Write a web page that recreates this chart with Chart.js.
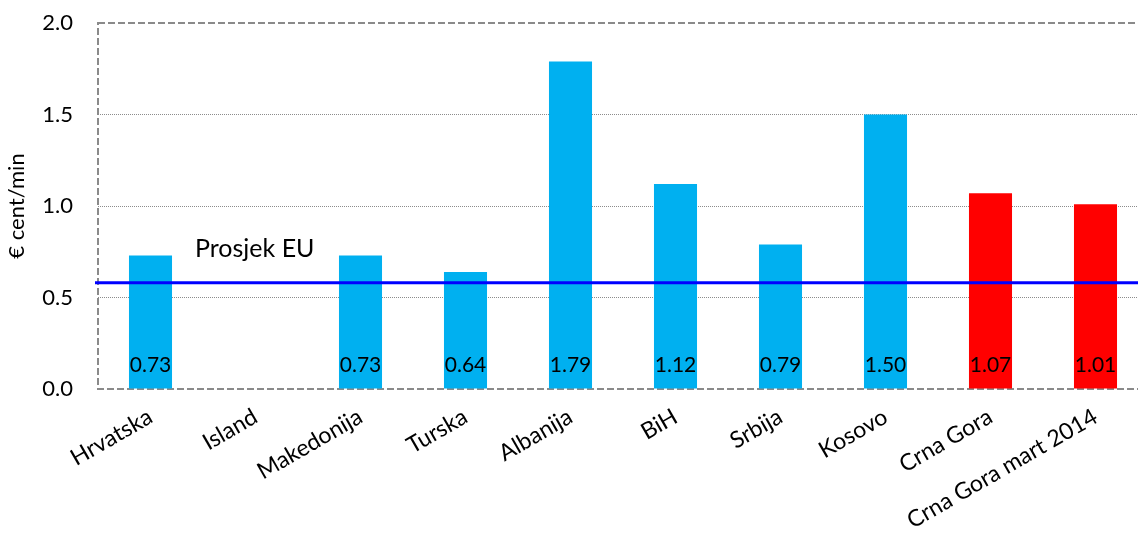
<!DOCTYPE html>
<html>
<head>
<meta charset="utf-8">
<script src="https://cdn.jsdelivr.net/npm/chart.js@4.4.1/dist/chart.umd.min.js"></script>
<style>
  html, body { margin: 0; padding: 0; background: #ffffff; overflow: hidden; }
  #wrap { position: relative; width: 1150px; height: 535px; }
</style>
</head>
<body>
<div id="wrap"><canvas id="c"></canvas></div>
<script>
// ---- data ----
const categories = ["Hrvatska", "Island", "Makedonija", "Turska", "Albanija", "BiH", "Srbija", "Kosovo", "Crna Gora", "Crna Gora mart 2014"];
const prices = [0.73, null, 0.73, 0.64, 1.79, 1.12, 0.79, 1.50, 1.07, 1.01];
const highlighted = ["Crna Gora", "Crna Gora mart 2014"];
const euAverage = 0.58;
const euLabel = "Prosjek EU";
const yTicks = [0.0, 0.5, 1.0, 1.5, 2.0];
const yTitle = "€ cent/min";

const FONT = "Lato, 'Open Sans', sans-serif";
const BLUE = "#00B0F0";
const RED = "#FF0000";

const framePlugin = {
  id: 'frame',
  beforeDatasetsDraw(chart) {
    const {ctx, chartArea: a} = chart;
    ctx.save();
    ctx.strokeStyle = '#8a8a8a';
    ctx.lineWidth = 2;
    ctx.setLineDash([7, 3]);
    ctx.strokeRect(a.left, a.top, a.right - a.left, a.bottom - a.top);
    ctx.restore();
  }
};

const euPlugin = {
  id: 'euLine',
  afterDatasetsDraw(chart) {
    const {ctx, chartArea: a, scales: {y}} = chart;
    const py = y.getPixelForValue(euAverage);
    ctx.save();
    ctx.strokeStyle = '#0000FF';
    ctx.lineWidth = 3;
    ctx.beginPath();
    ctx.moveTo(a.left - 3, py);
    ctx.lineTo(chart.width, py);
    ctx.stroke();
    ctx.fillStyle = '#000';
    ctx.font = "25px " + FONT;
    ctx.textBaseline = 'middle';
    ctx.textAlign = 'left';
    ctx.fillText(euLabel, a.left + 97, py - 34);
    ctx.restore();
  }
};

const valueLabelPlugin = {
  id: 'valueLabels',
  afterDatasetsDraw(chart) {
    const {ctx, scales: {y}} = chart;
    const meta = chart.getDatasetMeta(0);
    ctx.save();
    ctx.fillStyle = '#000';
    ctx.font = "21px " + FONT;
    ctx.textAlign = 'center';
    ctx.textBaseline = 'middle';
    meta.data.forEach((bar, i) => {
      const v = prices[i];
      if (v === null || v === undefined) return;
      ctx.fillText(v.toFixed(2), bar.x, y.getPixelForValue(0) - 24);
    });
    ctx.restore();
  }
};

new Chart(document.getElementById('c'), {
  type: 'bar',
  data: {
    labels: categories,
    datasets: [{
      data: prices,
      backgroundColor: (c) => highlighted.includes(categories[c.dataIndex]) ? RED : BLUE,
      borderWidth: 0,
      barPercentage: 0.41,
      categoryPercentage: 1.0
    }]
  },
  options: {
    responsive: true,
    maintainAspectRatio: false,
    animation: false,
    events: [],
    layout: { padding: { left: 0, right: 2, top: 23, bottom: 0 } },
    plugins: { legend: { display: false }, tooltip: { enabled: false } },
    scales: {
      x: {
        grid: { display: false, drawTicks: false },
        border: { display: false },
        ticks: {
          autoSkip: false, minRotation: 30, maxRotation: 30,
          padding: 14, color: '#000',
          font: { family: FONT, size: 23 }
        },
        afterFit(s) { s.height = 146; }
      },
      y: {
        min: 0, max: 2,
        afterBuildTicks(s) { s.ticks = yTicks.map(v => ({ value: v })); },
        grid: {
          drawTicks: true,
          tickLength: 25,
          tickColor: 'rgba(0,0,0,0)',
          color: (c) => (c.tick && (c.tick.value === 0 || c.tick.value === 2)) ? 'rgba(0,0,0,0)' : '#8c8c8c',
          lineWidth: 1
        },
        border: { display: false, dash: [1, 1] },
        ticks: {
          padding: 0, color: '#000',
          font: { family: FONT, size: 22 },
          callback: (v) => Number(v).toFixed(1)
        },
        title: {
          display: true, text: yTitle, color: '#000',
          font: { family: FONT, size: 22 },
          padding: { top: 4, bottom: 0 }
        },
        afterFit(s) { s.width = 98; }
      }
    }
  },
  plugins: [framePlugin, euPlugin, valueLabelPlugin]
});
</script>
</body>
</html>
